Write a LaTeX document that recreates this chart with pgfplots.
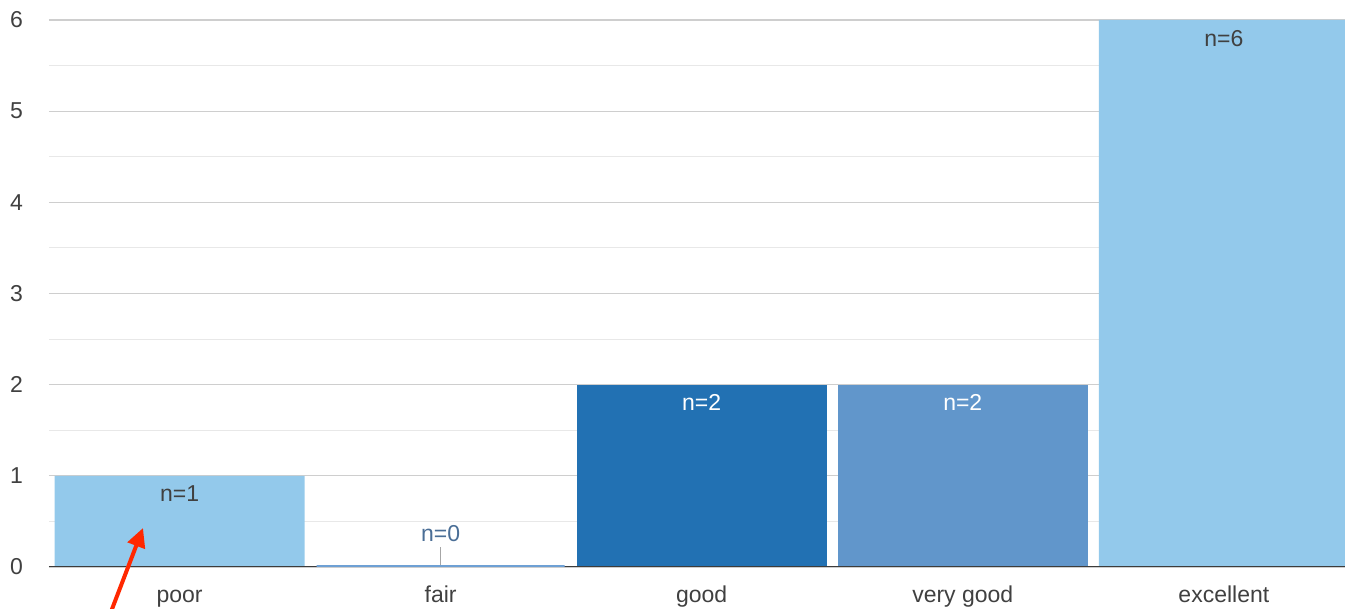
\documentclass[border=0pt]{standalone}
\usepackage{fontspec}
\setmainfont{Liberation Sans}
\usepackage{pgfplots}
\pgfplotsset{compat=1.18}
\usetikzlibrary{arrows.meta}
\definecolor{lightblue}{RGB}{147,201,235}
\definecolor{darkblue}{RGB}{34,113,179}
\definecolor{midblue}{RGB}{97,150,203}
\definecolor{fairblue}{RGB}{110,160,212}
\definecolor{txt}{RGB}{64,64,64}
\definecolor{zerotxt}{RGB}{74,110,150}
\definecolor{gridmajor}{RGB}{206,206,206}
\definecolor{gridminor}{RGB}{232,232,232}
\definecolor{basecol}{RGB}{60,60,60}
\definecolor{arrowred}{RGB}{255,40,0}
\newcommand{\lbl}{\fontsize{23pt}{27pt}\selectfont}
\begin{document}
\begin{tikzpicture}[x=1pt,y=1pt]
\useasboundingbox (0,0) rectangle (1345,609);
\begin{axis}[
  at={(49pt,42pt)}, anchor=south west,
  scale only axis, width=1296pt, height=547pt,
  xmin=-0.5, xmax=4.464, ymin=0, ymax=6,
  axis line style={draw=none},
  tick style={draw=none},
  ytick={0,1,2,3,4,5,6},
  minor y tick num=1,
  ymajorgrids, yminorgrids,
  major grid style={draw=gridmajor, line width=1.2pt},
  minor grid style={draw=gridminor, line width=1pt},
  xtick={0,1,2,3,4},
  xticklabels={poor,fair,good,very good,excellent},
  xticklabel style={anchor=base, yshift=-35.5pt, inner sep=0pt, text=txt, font=\lbl},
  yticklabel style={anchor=east, inner sep=0pt, xshift=-26pt, text=txt, font=\lbl},
  /pgf/number format/assume math mode=true,
  every node near coord/.append style={font=\lbl, inner sep=0pt},
]
\addplot[ybar, bar width=250pt, bar shift=0pt, fill=lightblue, draw=none,
  nodes near coords={n=\pgfmathprintnumber{\pgfplotspointmeta}},
  nodes near coords align={below},
  every node near coord/.append style={text=txt, yshift=-10pt}]
  coordinates {(0,1) (4,6)};
\addplot[ybar, bar width=250pt, bar shift=0pt, fill=darkblue, draw=none,
  nodes near coords={n=\pgfmathprintnumber{\pgfplotspointmeta}},
  nodes near coords align={below},
  every node near coord/.append style={text=white, yshift=-10pt}]
  coordinates {(2,2)};
\addplot[ybar, bar width=250pt, bar shift=0pt, fill=midblue, draw=none,
  nodes near coords={n=\pgfmathprintnumber{\pgfplotspointmeta}},
  nodes near coords align={below},
  every node near coord/.append style={text=white, yshift=-10pt}]
  coordinates {(3,2)};
\draw[basecol, line width=1.5pt] (axis cs:-0.5,0) -- (axis cs:4.464,0);
\addplot[ybar, bar width=248pt, bar shift=0pt, fill=fairblue, draw=fairblue, line width=3pt,
  nodes near coords={n=\pgfmathprintnumber{\pgfplotspointmeta}},
  nodes near coords align={above},
  every node near coord/.append style={text=zerotxt, yshift=24pt}]
  coordinates {(1,0)};
\draw[gray!70, line width=1.2pt] (axis cs:1,0.02) -- (axis cs:1,0.22);
\end{axis}
\draw[arrowred, line width=4pt, -{Triangle[length=19pt,width=18pt]}] (109,-8) -- (143,81);
\end{tikzpicture}
\end{document}
